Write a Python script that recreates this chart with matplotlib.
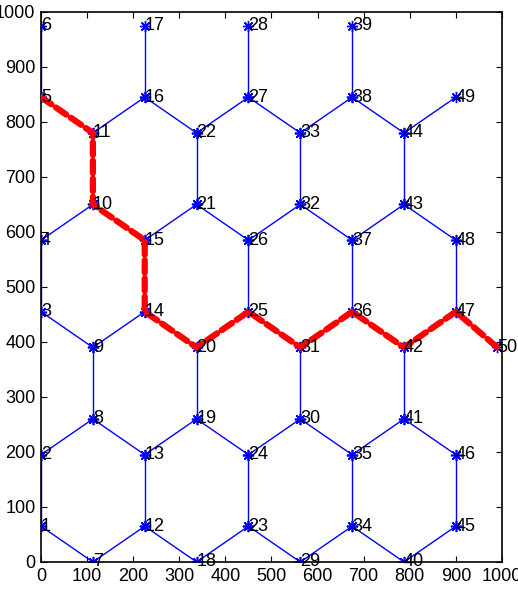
import matplotlib
matplotlib.use("Agg")
import matplotlib.pyplot as plt
import numpy as np

plt.rcParams['font.family'] = ['Liberation Sans Narrow', 'Liberation Sans', 'DejaVu Sans']

# node coordinates (hexagonal grid), node i -> (node_x[i-1], node_y[i-1])
node_x = [0, 0, 0, 0, 0, 0,
          112.5, 112.5, 112.5, 112.5, 112.5,
          225, 225, 225, 225, 225, 225,
          337.5, 337.5, 337.5, 337.5, 337.5,
          450, 450, 450, 450, 450, 450,
          562.5, 562.5, 562.5, 562.5, 562.5,
          675, 675, 675, 675, 675, 675,
          787.5, 787.5, 787.5, 787.5, 787.5,
          900, 900, 900, 900, 900,
          990]
node_y = [65, 195, 455, 585, 845, 975,
          0, 260, 390, 650, 780,
          65, 195, 455, 585, 845, 975,
          0, 260, 390, 650, 780,
          65, 195, 455, 585, 845, 975,
          0, 260, 390, 650, 780,
          65, 195, 455, 585, 845, 975,
          0, 260, 390, 650, 780,
          65, 195, 455, 585, 845,
          390]

edges = [(1, 2), (3, 4), (5, 6), (1, 7), (7, 12), (2, 8), (8, 13), (8, 9),
         (3, 9), (9, 14), (4, 10), (10, 15), (10, 11), (5, 11), (11, 16),
         (12, 13), (12, 18), (13, 19), (14, 15), (14, 20), (15, 21),
         (16, 17), (16, 22), (18, 23), (19, 24), (19, 20), (20, 25),
         (21, 22), (21, 26), (22, 27), (23, 24), (23, 29), (24, 30),
         (25, 26), (25, 31), (26, 32), (27, 28), (27, 33), (29, 34),
         (30, 35), (30, 31), (31, 36), (32, 33), (32, 37), (33, 38),
         (34, 35), (34, 40), (35, 41), (36, 37), (36, 42), (37, 43),
         (38, 39), (38, 44), (40, 45), (41, 46), (41, 42), (42, 47),
         (43, 44), (43, 48), (44, 49), (45, 46), (47, 48), (47, 50)]

path = [5, 11, 10, 15, 14, 20, 25, 31, 36, 42, 47, 50]

ticks = [0, 100, 200, 300, 400, 500, 600, 700, 800, 900, 1000]

x = np.array(node_x)
y = np.array(node_y)

fig = plt.figure(figsize=(5.18, 5.94), dpi=100)
ax = fig.add_axes([0.0792, 0.0539, 0.8898, 0.926])

# asterisk markers like matlab's '*'
for a, b in edges:
    ax.plot([x[a - 1], x[b - 1]], [y[a - 1], y[b - 1]], color='#0000ff',
            lw=1.0, marker=(8, 2, 0), ms=8, mew=1.0)

p = np.array(path) - 1
ax.plot(x[p], y[p], color='#ff0000', lw=4.5, ls=(0, (2.0, 0.9)),
        solid_capstyle='round', dash_capstyle='round', zorder=5)

for i in range(len(x)):
    ax.text(x[i], y[i], str(i + 1), ha='left', va='center', fontsize=13,
            color='black', zorder=6)

ax.set_xlim(0, 1000)
ax.set_ylim(0, 1000)
ax.set_xticks(ticks)
ax.set_yticks(ticks)
ax.tick_params(direction='in', top=True, right=True, labelsize=13, length=4,
               pad=4)
for s in ax.spines.values():
    s.set_linewidth(1.2)

fig.savefig('out.png', dpi=100)
